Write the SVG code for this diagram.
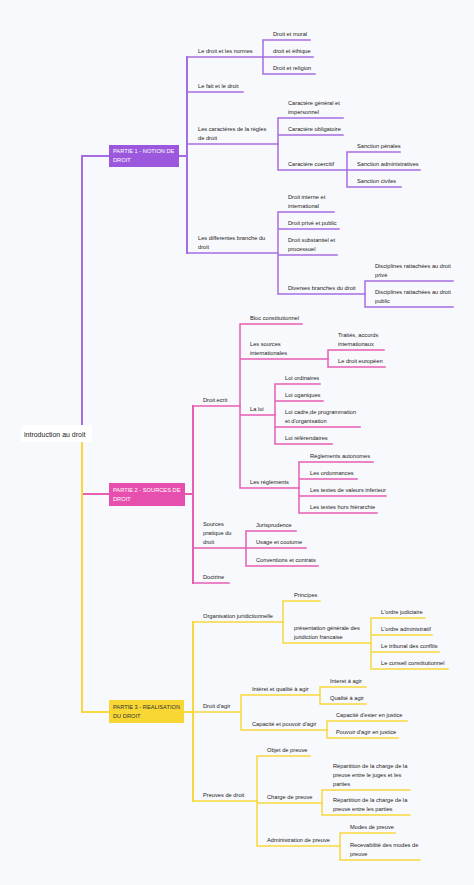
<svg xmlns="http://www.w3.org/2000/svg" width="474" height="885" viewBox="0 0 474 885">
<style>
.t{font-family:"Liberation Sans",Arial,sans-serif;font-size:5.7px;fill:#222}
.bt{font-family:"Liberation Sans",Arial,sans-serif;font-size:5.7px}
.rt{font-family:"Liberation Sans",Arial,sans-serif;font-size:7px;fill:#222}
.c{fill:none;stroke-width:1.5;stroke-linecap:square}
.m{stroke-width:2}
.p{stroke:#a56de2}
.k{stroke:#e65db4}
.y{stroke:#f8d83e}
</style>
<rect width="474" height="885" fill="#f8f9fc"/>
<g id="connectors">
<!-- root branches -->
<path class="c m p" d="M82,434 V156 H109"/>
<path class="c m k" d="M82,442 V494 H109"/>
<path class="c m y" d="M82,442 V712 H109"/>
<!-- purple -->
<path class="c m p" d="M179,156 H187 M187,57 V253"/>
<path class="c p" d="M187,57 H263 M187,92 H243 M187,144 H278 M187,253 H278"/>
<path class="c p" d="M263,40 V74 M263,40 H310 M263,57 H313 M263,74 H315"/>
<path class="c p" d="M278,118 V170 M278,118 H343 M278,135 H343 M278,170 H347"/>
<path class="c p" d="M347,152 V187 M347,152 H400 M347,170 H420 M347,187 H401"/>
<path class="c p" d="M278,212 V294 M278,212 H334 M278,229 H339 M278,255 H337 M278,294 H365"/>
<path class="c p" d="M365,281 V307 M365,281 H453 M365,307 H453"/>
<!-- pink -->
<path class="c m k" d="M185,494 H193 M193,406 V583"/>
<path class="c k" d="M193,406 H240 M193,548 H246 M193,583 H229"/>
<path class="c k" d="M240,324 V488 M240,324 H302 M240,359 H328 M240,415 H275 M240,488 H299"/>
<path class="c k" d="M328,350 V367 M328,350 H384 M328,367 H385"/>
<path class="c k" d="M275,384 V444 M275,384 H320 M275,401 H323 M275,427 H360 M275,444 H332"/>
<path class="c k" d="M299,462 V513 M299,462 H373 M299,479 H357 M299,496 H386 M299,513 H377"/>
<path class="c k" d="M246,531 V566 M246,531 H296 M246,548 H306 M246,566 H318"/>
<!-- yellow -->
<path class="c m y" d="M184,712 H193 M193,622 V801"/>
<path class="c y" d="M193,622 H283 M193,712 H241 M193,801 H257"/>
<path class="c y" d="M283,601 V643 M283,601 H320 M283,643 H371"/>
<path class="c y" d="M371,618 V669 M371,618 H425 M371,635 H432 M371,652 H439 M371,669 H448"/>
<path class="c y" d="M241,695 V730 M241,695 H320 M241,730 H327"/>
<path class="c y" d="M320,687 V704 M320,687 H366 M320,704 H366"/>
<path class="c y" d="M327,721 V738 M327,721 H407 M327,738 H398"/>
<path class="c y" d="M257,756 V846 M257,756 H310 M257,803 H322 M257,846 H340"/>
<path class="c y" d="M322,790 V815 M322,790 H410 M322,815 H410"/>
<path class="c y" d="M340,833 V860 M340,833 H395 M340,860 H420"/>
</g>
<g id="root"><rect x="21" y="425" width="71" height="17" rx="2" fill="#fff"/><text class="rt" x="24" y="436.5">introduction au droit</text></g>
<g id="partie1"><rect x="109" y="145" width="70" height="22" fill="#9b58dc"/><text class="bt" fill="#fff" x="113" y="153">PARTIE 1 - NOTION DE</text><text class="bt" fill="#fff" x="113" y="162">DROIT</text></g>
<g id="partie2"><rect x="109" y="483" width="76" height="23" fill="#e64fae"/><text class="bt" fill="#fff" x="113" y="492">PARTIE 2 - SOURCES DE</text><text class="bt" fill="#fff" x="113" y="501">DROIT</text></g>
<g id="partie3"><rect x="109" y="700" width="75" height="23" fill="#f8d735"/><text class="bt" fill="#333" x="113" y="709">PARTIE 3 - REALISATION</text><text class="bt" fill="#333" x="113" y="718">DU DROIT</text></g>
<g id="n-normes"><text class="t" x="198" y="52.5">Le droit et les normes</text></g>
<g id="n-moral"><text class="t" x="273" y="35.5">Droit et moral</text></g>
<g id="n-ethique"><text class="t" x="273" y="52.5">droit et éthique</text></g>
<g id="n-religion"><text class="t" x="273" y="69.5">Droit et religion</text></g>
<g id="n-fait"><text class="t" x="198" y="87.5">Le fait et le droit</text></g>
<g id="n-caracteres"><text class="t" x="198" y="130.5">Les caractères de la règles</text><text class="t" x="198" y="139.5">de droit</text></g>
<g id="n-general"><text class="t" x="288" y="104.5">Caractère général et</text><text class="t" x="288" y="113.5">impersonnel</text></g>
<g id="n-obligatoire"><text class="t" x="288" y="130.5">Caractère obligatoire</text></g>
<g id="n-coercitif"><text class="t" x="288" y="165.5">Caractère coercitif</text></g>
<g id="n-penales"><text class="t" x="357" y="147.5">Sanction pénales</text></g>
<g id="n-admin"><text class="t" x="357" y="165.5">Sanction administratives</text></g>
<g id="n-civiles"><text class="t" x="357" y="182.5">Sanction civiles</text></g>
<g id="n-branches"><text class="t" x="198" y="239.5">Les differentes branche du</text><text class="t" x="198" y="248.5">droit</text></g>
<g id="n-interne"><text class="t" x="288" y="198.5">Droit interne et</text><text class="t" x="288" y="207.5">international</text></g>
<g id="n-prive"><text class="t" x="288" y="224.5">Droit privé et public</text></g>
<g id="n-substantiel"><text class="t" x="288" y="241.5">Droit substantiel et</text><text class="t" x="288" y="250.5">processuel</text></g>
<g id="n-diverses"><text class="t" x="288" y="289.5">Diverses branches du droit</text></g>
<g id="n-discprive"><text class="t" x="375" y="267.5">Disciplines rattachées au droit</text><text class="t" x="375" y="276.5">privé</text></g>
<g id="n-discpublic"><text class="t" x="375" y="293.5">Disciplines rattachées au droit</text><text class="t" x="375" y="302.5">public</text></g>
<g id="n-ecrit"><text class="t" x="203" y="401.5">Droit ecrit</text></g>
<g id="n-bloc"><text class="t" x="250" y="319.5">Bloc constitutionnel</text></g>
<g id="n-sourcesint"><text class="t" x="250" y="345.5">Les sources</text><text class="t" x="250" y="354.5">internationales</text></g>
<g id="n-traites"><text class="t" x="338" y="336.5">Traités, accords</text><text class="t" x="338" y="345.5">internationaux</text></g>
<g id="n-europeen"><text class="t" x="338" y="362.5">Le droit européen</text></g>
<g id="n-loi"><text class="t" x="250" y="410.5">La loi</text></g>
<g id="n-ordinaires"><text class="t" x="285" y="379.5">Loi ordinaires</text></g>
<g id="n-organiques"><text class="t" x="285" y="396.5">Loi oganiques</text></g>
<g id="n-cadre"><text class="t" x="285" y="413.5">Loi cadre,de programmation</text><text class="t" x="285" y="422.5">et d'organisation</text></g>
<g id="n-referendaires"><text class="t" x="285" y="439.5">Loi référendaires</text></g>
<g id="n-reglements"><text class="t" x="250" y="483.5">Les réglements</text></g>
<g id="n-autonomes"><text class="t" x="310" y="457.5">Réglements autonomes</text></g>
<g id="n-ordonnances"><text class="t" x="310" y="474.5">Les ordonnances</text></g>
<g id="n-inferieur"><text class="t" x="310" y="491.5">Les textes de valeurs inferieur</text></g>
<g id="n-hors"><text class="t" x="310" y="508.5">Les textes hors hiérarchie</text></g>
<g id="n-pratique"><text class="t" x="203" y="525.5">Sources</text><text class="t" x="203" y="534.5">pratique du</text><text class="t" x="203" y="543.5">droit</text></g>
<g id="n-juris"><text class="t" x="256" y="526.5">Jurisprudence</text></g>
<g id="n-usage"><text class="t" x="256" y="543.5">Usage et coutume</text></g>
<g id="n-conventions"><text class="t" x="256" y="561.5">Conventions et contrats</text></g>
<g id="n-doctrine"><text class="t" x="203" y="578.5">Doctrine</text></g>
<g id="n-organisation"><text class="t" x="203" y="617.5">Organisation juridictionnelle</text></g>
<g id="n-principes"><text class="t" x="294" y="596.5">Principes</text></g>
<g id="n-presentation"><text class="t" x="294" y="629.5">présentation générale des</text><text class="t" x="294" y="638.5">juridiction francaise</text></g>
<g id="n-judiciaire"><text class="t" x="381" y="613.5">L'ordre judiciaire</text></g>
<g id="n-administratif"><text class="t" x="381" y="630.5">L'ordre administratif</text></g>
<g id="n-tribunal"><text class="t" x="381" y="647.5">Le tribunal des conflits</text></g>
<g id="n-conseil"><text class="t" x="381" y="664.5">Le conseil constitutionnel</text></g>
<g id="n-agir"><text class="t" x="203" y="707.5">Droit d'agir</text></g>
<g id="n-interetqualite"><text class="t" x="252" y="690.5">Intéret et qualité à agir</text></g>
<g id="n-interet"><text class="t" x="330" y="682.5">Interet à agir</text></g>
<g id="n-qualite"><text class="t" x="330" y="699.5">Qualité à agir</text></g>
<g id="n-capacitepouvoir"><text class="t" x="252" y="725.5">Capacité et pouvoir d'agir</text></g>
<g id="n-ester"><text class="t" x="336" y="716.5">Capacité d'ester en justice</text></g>
<g id="n-pouvoir"><text class="t" x="336" y="733.5">Pouvoir d'agir en justice</text></g>
<g id="n-preuves"><text class="t" x="203" y="796.5">Preuves de droit</text></g>
<g id="n-objet"><text class="t" x="267" y="751.5">Objet de preuve</text></g>
<g id="n-charge"><text class="t" x="267" y="798.5">Charge de preuve</text></g>
<g id="n-rep1"><text class="t" x="333" y="767.5">Répartition de la charge de la</text><text class="t" x="333" y="776.5">preuve entre le juges et les</text><text class="t" x="333" y="785.5">parties</text></g>
<g id="n-rep2"><text class="t" x="333" y="801.5">Répartition de la charge de la</text><text class="t" x="333" y="810.5">preuve entre les parties</text></g>
<g id="n-administration"><text class="t" x="267" y="841.5">Administration de preuve</text></g>
<g id="n-modes"><text class="t" x="350" y="828.5">Modes de preuve</text></g>
<g id="n-recevabilite"><text class="t" x="350" y="846.5">Recevabilité des modes de</text><text class="t" x="350" y="855.5">preuve</text></g>
</svg>
